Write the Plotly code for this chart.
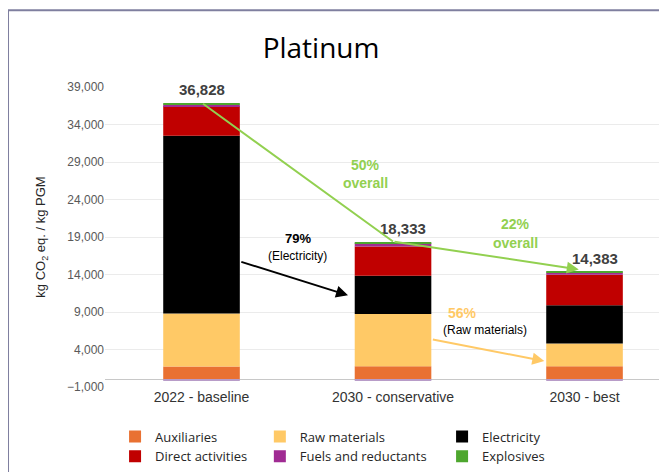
import plotly.graph_objects as go

# data
scenarios = ["2022 - baseline", "2030 - conservative", "2030 - best"]
auxiliaries = [1730, 1770, 1770]
raw_materials = [7060, 6980, 3020]
electricity = [23700, 5100, 5100]
direct_activities = [3930, 3900, 4090]
fuels_reductants = [250, 420, 290]
explosives = [158, 163, 113]
credits = [-200, -200, -200]
totals = [36828, 18333, 14383]

y_ticks = [-1000, 4000, 9000, 14000, 19000, 24000, 29000, 34000, 39000]

xs = list(range(len(scenarios)))

series = [
    ("Auxiliaries", auxiliaries, "#E97132", "legend"),
    ("Raw materials", raw_materials, "#FFC966", "legend2"),
    ("Electricity", electricity, "#000000", "legend3"),
    ("Direct activities", direct_activities, "#C00000", "legend"),
    ("Fuels and reductants", fuels_reductants, "#A02B93", "legend2"),
    ("Explosives", explosives, "#4EA72E", "legend3"),
]

fig = go.Figure()
for name, vals, col, leg in series:
    fig.add_trace(go.Bar(
        x=xs, y=vals, name=name, width=0.4,
        marker=dict(color=col, line=dict(width=0)),
        legend=leg,
    ))
# small negative contribution drawn below zero
fig.add_trace(go.Bar(
    x=xs, y=credits, name="credits", width=0.4, showlegend=False,
    marker=dict(color="#B89CC8", line=dict(width=0)),
))

# totals above bars
shifts = [0, 10, 10]
for i, t in enumerate(totals):
    fig.add_annotation(
        x=xs[i], y=t, text="<b>{:,}</b>".format(t), showarrow=False,
        yanchor="bottom", yshift=3, xshift=shifts[i],
        font=dict(family="Liberation Sans", size=15, color="#404040"),
    )

green = "#92D050"
yellow = "#FFC966"
# green overall reduction lines
fig.add_annotation(
    x=xs[1], y=totals[1] + 60, ax=xs[0], ay=totals[0] + 80,
    xref="x", yref="y", axref="x", ayref="y",
    showarrow=True, arrowhead=0, arrowwidth=2, arrowcolor=green, text="",
)
fig.add_annotation(
    x=1.97, y=totals[2] + 300, ax=xs[1], ay=totals[1] + 60,
    xref="x", yref="y", axref="x", ayref="y",
    showarrow=True, arrowhead=2, arrowsize=1.2, arrowwidth=2, arrowcolor=green, text="",
)
# electricity arrow
fig.add_annotation(
    x=0.765, y=11230, ax=0.2, ay=15750,
    xref="x", yref="y", axref="x", ayref="y",
    showarrow=True, arrowhead=2, arrowsize=1.2, arrowwidth=2, arrowcolor="#000000", text="",
)
# raw materials arrow
fig.add_annotation(
    x=1.79, y=2460, ax=1.2, ay=5380,
    xref="x", yref="y", axref="x", ayref="y",
    showarrow=True, arrowhead=2, arrowsize=1.2, arrowwidth=2, arrowcolor=yellow, text="",
)

labels = [
    (0.854, 28630, "<b>50%</b>", green, 14),
    (0.854, 26230, "<b>overall</b>", green, 14),
    (1.64, 20770, "<b>22%</b>", green, 14),
    (1.64, 18240, "<b>overall</b>", green, 14),
    (0.505, 18775, "<b>79%</b>", "#000000", 13),
    (0.50, 16510, "(Electricity)", "#000000", 12),
    (1.365, 8920, "<b>56%</b>", yellow, 14),
    (1.48, 6660, "(Raw materials)", "#000000", 12),
]
for x, y, txt, col, sz in labels:
    fig.add_annotation(
        x=x, y=y, text=txt, showarrow=False,
        font=dict(family="Liberation Sans", size=sz, color=col),
    )

# outer frame lines
fig.add_shape(type="line", xref="paper", yref="paper",
              x0=-0.1735, x1=-0.1735, y0=1.256, y1=-0.3,
              line=dict(color="#7F7F9F", width=2))
fig.add_shape(type="line", xref="paper", yref="paper",
              x0=-0.1735, x1=1.1, y0=1.256, y1=1.256,
              line=dict(color="#7F7F9F", width=2))

leg_common = dict(
    orientation="v", yanchor="top", y=-0.115, xanchor="left",
    font=dict(family="Open Sans", size=13, color="#262626"),
    bgcolor="rgba(0,0,0,0)", itemwidth=30, tracegroupgap=0,
)

fig.update_layout(
    width=659, height=464,
    margin=dict(l=97, r=3, t=79, b=85, autoexpand=False),
    paper_bgcolor="white", plot_bgcolor="white",
    barmode="relative", bargap=0.5,
    title=dict(text="Platinum", x=0.475, xref="container", xanchor="center",
               y=0.914, yref="container", yanchor="middle",
               font=dict(family="Open Sans", size=28, color="#000000")),
    xaxis=dict(
        range=[-0.504, 2.415], tickvals=xs, ticktext=scenarios,
        showgrid=False, zeroline=False, showline=False, ticks="",
        automargin=False,
        tickfont=dict(family="Liberation Sans", size=14, color="#333333"),
    ),
    yaxis=dict(
        range=[-1000, 39000], tickvals=y_ticks, tickformat=",",
        showgrid=True, gridcolor="#EBEBEB", gridwidth=1,
        zeroline=True, zerolinecolor="#C8C8C8", zerolinewidth=1,
        automargin=False,
        tickfont=dict(family="Liberation Sans", size=12, color="#595959"),
        title=dict(text="kg CO<sub>2</sub> eq. / kg PGM", standoff=18,
                   font=dict(family="Liberation Sans", size=13, color="#262626")),
    ),
    legend=dict(leg_common, x=0.018),
    legend2=dict(leg_common, x=0.277),
    legend3=dict(leg_common, x=0.603),
    showlegend=True,
)

fig.write_html("out.html")
